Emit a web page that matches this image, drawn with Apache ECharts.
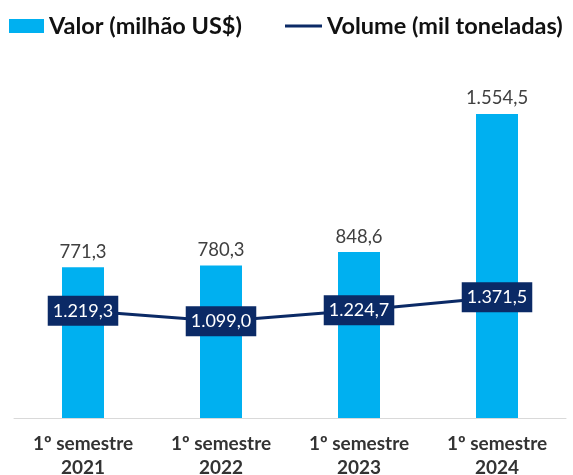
<!DOCTYPE html>
<html>
<head>
<meta charset="utf-8">
<script src="https://cdn.jsdelivr.net/npm/echarts@6/dist/echarts.min.js"></script>
<style>
  html, body { margin: 0; padding: 0; background: #fff; }
  #chart { width: 573px; height: 475px; }
</style>
</head>
<body>
<div id="chart"></div>
<script>
// dados
const categories = ["1º semestre\n2021", "1º semestre\n2022", "1º semestre\n2023", "1º semestre\n2024"];
const valor = [771.3, 780.3, 848.6, 1554.5];
const volume = [1219.3, 1099.0, 1224.7, 1371.5];

const fontFamily = "Lato, 'Open Sans', sans-serif";

// formato pt-BR: 1.554,5
const fmt = (v) => {
  const parts = v.toFixed(1).split(".");
  parts[0] = parts[0].replace(/\B(?=(\d{3})+(?!\d))/g, ".");
  return parts.join(",");
};

const chart = echarts.init(document.getElementById("chart"));
chart.setOption({
  animation: false,
  textStyle: { fontFamily: fontFamily },
  legend: [
    {
      data: ["Valor (milhão US$)"],
      left: 4,
      top: 9,
      icon: "rect",
      itemWidth: 35,
      itemHeight: 14,
      textStyle: { fontSize: 23.5, fontWeight: "bold", color: "#111", fontFamily: fontFamily },
    },
    {
      data: ["Volume (mil toneladas)"],
      left: 280,
      top: 9,
      icon: "rect",
      itemWidth: 37,
      itemHeight: 3,
      textStyle: { fontSize: 23.5, fontWeight: "bold", color: "#111", fontFamily: fontFamily },
    },
  ],
  grid: {
    left: 14,
    right: 7,
    top: 66,
    bottom: 57,
    outerBoundsMode: "none",
  },
  xAxis: {
    type: "category",
    data: categories,
    axisLine: { lineStyle: { color: "#d9d9d9", width: 1 } },
    axisTick: { show: false },
    axisLabel: {
      fontSize: 19,
      fontWeight: "bold",
      color: "#333",
      lineHeight: 24,
      margin: 14,
      fontFamily: fontFamily,
    },
  },
  yAxis: [
    { type: "value", min: 0, max: 1800, show: false },
    { type: "value", min: 0, max: 4000, show: false },
  ],
  series: [
    {
      name: "Valor (milhão US$)",
      type: "bar",
      data: valor,
      barWidth: 42,
      itemStyle: { color: "#00b0f0" },
      label: {
        show: true,
        position: "top",
        distance: 6,
        fontSize: 18.5,
        color: "#404040",
        fontFamily: fontFamily,
        formatter: (p) => fmt(p.value),
      },
    },
    {
      name: "Volume (mil toneladas)",
      type: "line",
      yAxisIndex: 1,
      data: volume,
      symbol: "circle",
      symbolSize: 1,
      lineStyle: { color: "#0b2a66", width: 3 },
      itemStyle: { color: "#0b2a66" },
      label: {
        show: true,
        position: "inside",
        fontSize: 18,
        lineHeight: 19,
        color: "#fff",
        backgroundColor: "#0b2a66",
        padding: [5, 5, 6, 5],
        fontFamily: fontFamily,
        formatter: (p) => fmt(p.value),
      },
      z: 3,
    },
  ],
});
</script>
</body>
</html>
